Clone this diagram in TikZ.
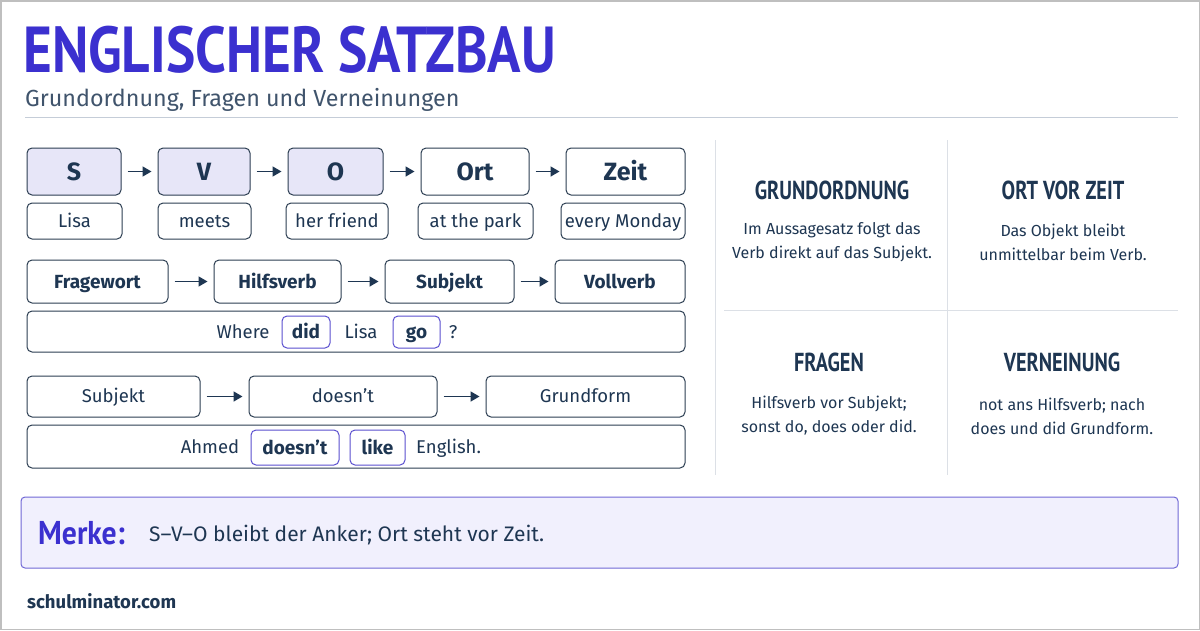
\documentclass[tikz,border=0pt]{standalone}
\usepackage{fontspec}
\setmainfont{Fira Sans}
\newfontfamily\titlefont{PT Sans}[FakeStretch=0.85]
\newfontfamily\headfont{PT Sans}[FakeStretch=0.78]
\newfontfamily\merkefont{PT Sans}[FakeStretch=0.9]
\usetikzlibrary{arrows.meta}
\definecolor{navy}{HTML}{1E3652}
\definecolor{boxc}{HTML}{2C3E52}
\definecolor{violet}{HTML}{3B30CF}
\definecolor{lav}{HTML}{E7E6F8}
\definecolor{hl}{HTML}{5A4FCF}
\definecolor{merkefill}{HTML}{F1F0FD}
\definecolor{merkedraw}{HTML}{7068D6}
\definecolor{sep}{HTML}{DCE0E6}
\definecolor{rule}{HTML}{C5CDD8}
\newcommand{\fsz}[1]{\fontsize{#1}{#1}\selectfont}
\tikzset{
  box/.style={draw=boxc, line width=1pt, rounded corners=5pt, fill=white, inner sep=0pt, text=navy},
  lavbox/.style={box, fill=lav},
  hlbox/.style={draw=hl, line width=1pt, rounded corners=5pt, fill=white, inner sep=0pt, text=navy},
  word/.style={inner sep=0pt, text=navy},
  big/.style={font=\bfseries\fsz{25}, text height=19pt, text depth=2pt},
  reg/.style={font=\fsz{18.5}, text height=14.7pt, text depth=2pt},
  bld/.style={font=\bfseries\fsz{19}, text height=15pt, text depth=2pt},
  arr/.style={draw=navy, line width=1.6pt, -{Triangle[length=9pt,width=10pt]}, shorten <=6pt, shorten >=6pt},
  sepline/.style={draw=sep, line width=1pt},
  head/.style={inner sep=0pt, text=navy, font=\headfont\bfseries\fsz{26}},
  body/.style={inner sep=0pt, text=navy, align=center, font=\fontsize{16}{24}\selectfont},
}
\begin{document}
\begin{tikzpicture}[x=1pt,y=-1pt]
\useasboundingbox (0,0) rectangle (1200,630);
\fill[white] (0,0) rectangle (1200,630);
\draw[draw=gray!50, line width=1.5pt] (0.75,0.75) rectangle (1199.25,629.25);
% title
\node[anchor=base west, inner sep=0pt, text=violet, font=\titlefont\bfseries\fsz{65}] (title) at (23,72) {ENGLISCHER SATZBAU};
\node[anchor=base west, inner sep=0pt, text=navy!85, font=\fsz{23.3}] (sub) at (25,106) {Grundordnung, Fragen und Verneinungen};
\draw[draw=rule, line width=1pt] (25,117) -- (1178,117);
% row 1
\node[lavbox, big, minimum width=94pt, minimum height=47pt] (s) at (74,171.5) {S};
\node[lavbox, big, minimum width=92pt, minimum height=47pt] (v) at (204,171.5) {V};
\node[lavbox, big, minimum width=95pt, minimum height=47pt] (o) at (335.5,171.5) {O};
\node[box, big, minimum width=108pt, minimum height=47pt] (ort) at (475,171.5) {Ort};
\node[box, big, minimum width=119pt, minimum height=47pt] (zeit) at (625.5,171.5) {Zeit};
\draw[arr] (s) -- (v);
\draw[arr] (v) -- (o);
\draw[arr] (o) -- (ort);
\draw[arr] (ort) -- (zeit);
\node[box, reg, minimum width=95pt, minimum height=36pt] (lisa) at (74.5,221) {Lisa};
\node[box, reg, minimum width=93pt, minimum height=36pt] (meets) at (204.5,221) {meets};
\node[box, reg, minimum width=102pt, minimum height=36pt] (friend) at (337,221) {her friend};
\node[box, reg, minimum width=115pt, minimum height=36pt] (park) at (475.5,221) {at the park};
\node[box, reg, minimum width=124pt, minimum height=36pt] (monday) at (623,221) {every Monday};
% row 2
\node[box, bld, minimum width=141pt, minimum height=43pt] (fw) at (97.5,281.5) {Fragewort};
\node[box, bld, minimum width=127pt, minimum height=43pt] (hv) at (277.5,281.5) {Hilfsverb};
\node[box, bld, minimum width=129pt, minimum height=43pt] (sj) at (449.5,281.5) {Subjekt};
\node[box, bld, minimum width=130pt, minimum height=43pt] (vv) at (620,281.5) {Vollverb};
\draw[arr] (fw) -- (hv);
\draw[arr] (hv) -- (sj);
\draw[arr] (sj) -- (vv);
\node[box, minimum width=658pt, minimum height=41pt] (q) at (356,331.5) {};
\node[word, reg] (where) at (243,332) {Where};
\node[hlbox, bld, minimum width=48pt, minimum height=32pt] (did) at (306,332) {did};
\node[word, reg] (lisa2) at (361,332) {Lisa};
\node[hlbox, bld, minimum width=47pt, minimum height=32pt] (go) at (416.5,332) {go};
\node[word, reg] (qm) at (453,332) {?};
% row 3
\node[box, reg, minimum width=173pt, minimum height=41pt] (sj3) at (113.5,396.5) {Subjekt};
\node[box, reg, minimum width=188pt, minimum height=41pt] (dn) at (343,396.5) {doesn’t};
\node[box, reg, minimum width=199pt, minimum height=41pt] (gf) at (585.5,396.5) {Grundform};
\draw[arr] (sj3) -- (dn);
\draw[arr] (dn) -- (gf);
\node[box, minimum width=658pt, minimum height=43pt] (neg) at (356,446.5) {};
\node[word, reg] (ahmed) at (210,447.5) {Ahmed};
\node[hlbox, bld, minimum width=88pt, minimum height=35pt] (dn2) at (295,447.5) {doesn’t};
\node[hlbox, bld, minimum width=55pt, minimum height=35pt] (like) at (377.5,447.5) {like};
\node[word, reg, anchor=west] (eng) at (416,447.5) {English.};
% right panel
\draw[sepline] (715,140) -- (715,475);
\draw[sepline] (947,140) -- (947,475);
\draw[sepline] (724,310) -- (1178,310);
\node[head] (h1) at (832,190) {GRUNDORDNUNG};
\node[body] (b1) at (832,242) {Im Aussagesatz folgt das\\Verb direkt auf das Subjekt.};
\node[head] (h2) at (1063,190) {ORT VOR ZEIT};
\node[body] (b2) at (1063,242) {Das Objekt bleibt\\unmittelbar beim Verb.};
\node[head] (h3) at (829,362) {FRAGEN};
\node[body] (b3) at (829,416) {Hilfsverb vor Subjekt;\\sonst do, does oder did.};
\node[head] (h4) at (1062,362) {VERNEINUNG};
\node[body] (b4) at (1062,416) {not ans Hilfsverb; nach\\does und did Grundform.};
% merke
\node[draw=merkedraw, fill=merkefill, line width=1pt, rounded corners=4pt, minimum width=1157pt, minimum height=71pt, inner sep=0pt] (merke) at (599.5,532.5) {};
\node[anchor=west, inner sep=0pt, text=violet, font=\merkefont\bfseries\fsz{33}] (mk) at (38,533) {Merke:};
\node[anchor=west, inner sep=0pt, text=navy, font=\fsz{21}] (mt) at (149,535) {S–V–O bleibt der Anker; Ort steht vor Zeit.};
% footer
\node[anchor=west, inner sep=0pt, text=navy, font=\bfseries\fsz{18.5}] (foot) at (27,601) {schulminator.com};
\end{tikzpicture}
\end{document}
